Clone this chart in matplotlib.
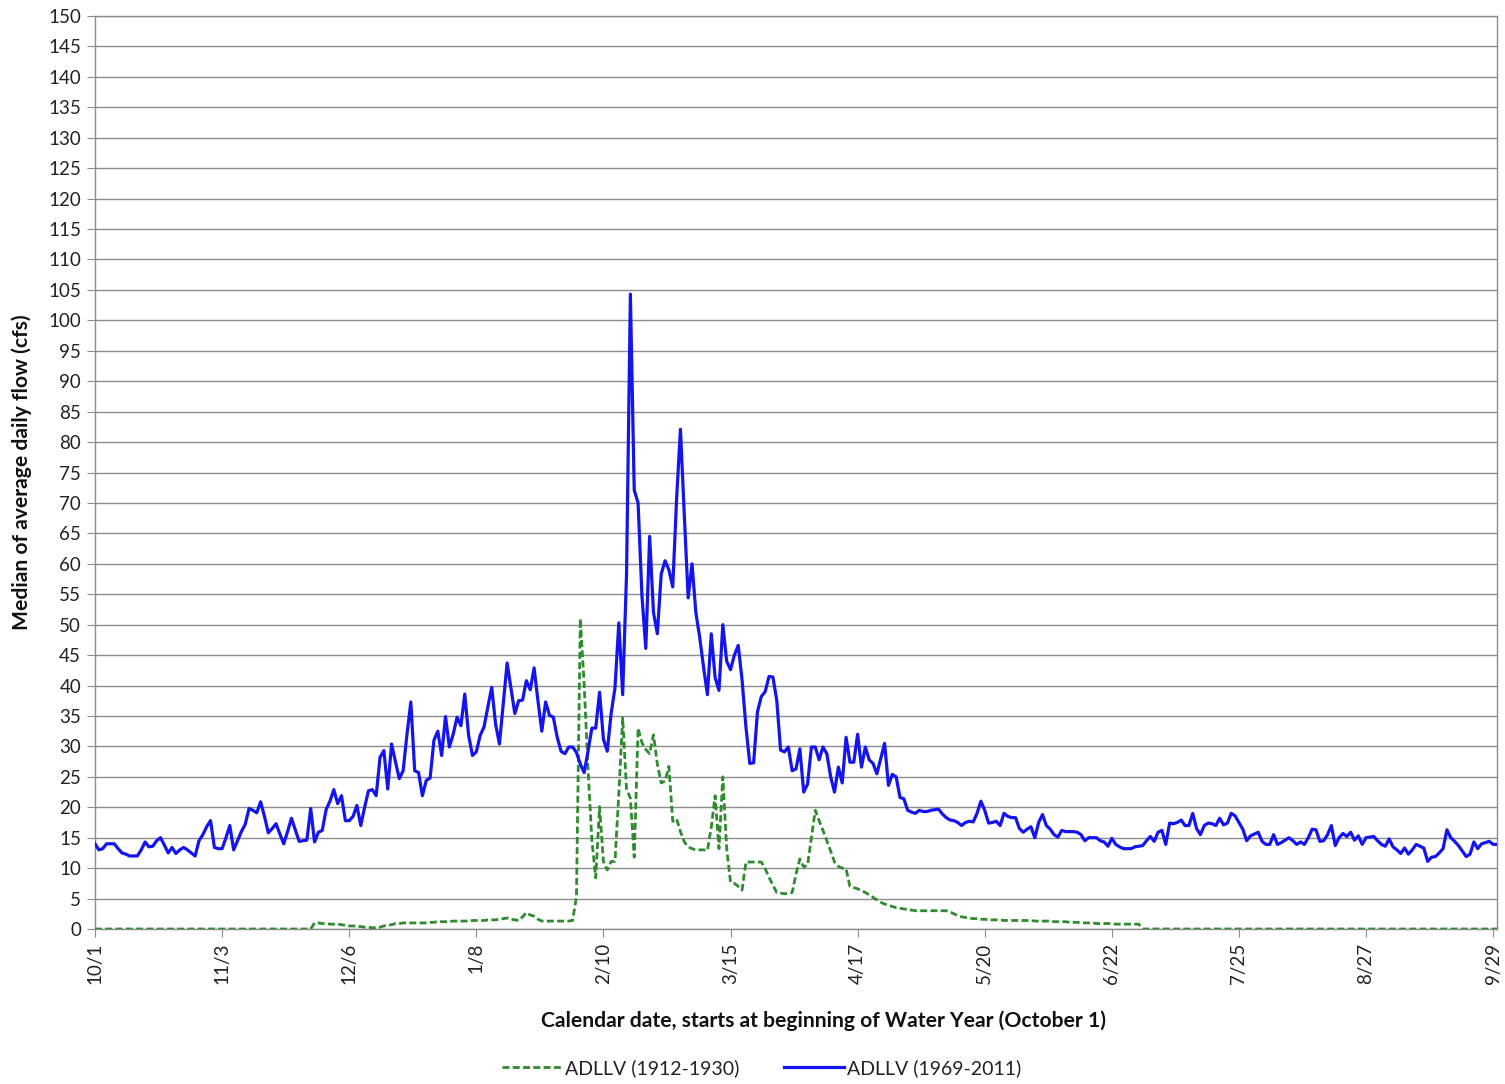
import numpy as np
import matplotlib
matplotlib.use("Agg")
import matplotlib.pyplot as plt

plt.rcParams['font.family'] = ['Lato', 'DejaVu Sans']

tick_labels = ["10/1", "11/3", "12/6", "1/8", "2/10", "3/15", "4/17",
               "5/20", "6/22", "7/25", "8/27", "9/29"]
tick_days = [0, 33, 66, 99, 132, 165, 198, 231, 264, 297, 330, 363]

# ADLLV (1969-2011), median of average daily flow, one value per day from 10/1
blue = [
    14.0, 13.0, 13.2, 14.0, 14.0, 14.0, 13.2, 12.5, 12.3, 12.0,
    12.0, 12.0, 13.0, 14.3, 13.5, 13.6, 14.5, 15.0, 13.8, 12.5,
    13.4, 12.4, 13.0, 13.4, 13.0, 12.5, 12.0, 14.5, 15.5, 16.8,
    17.8, 13.4, 13.2, 13.2, 15.0, 17.0, 13.0, 14.5, 16.0, 17.2,
    19.8, 19.5, 19.1, 20.9, 18.5, 15.8, 16.5, 17.3, 15.6, 14.0,
    16.0, 18.2, 16.3, 14.4, 14.5, 14.6, 19.8, 14.3, 15.9, 16.2,
    19.6, 21.0, 22.9, 20.6, 21.9, 17.8, 17.8, 18.5, 20.3, 17.0,
    20.0, 22.7, 22.9, 21.9, 28.2, 29.3, 23.0, 30.4, 27.5, 24.7,
    26.0, 32.0, 37.3, 26.0, 25.7, 21.9, 24.4, 24.8, 31.0, 32.5,
    28.5, 34.9, 29.9, 32.0, 34.8, 33.4, 38.6, 31.8, 28.5, 29.1,
    31.8, 33.2, 36.5, 39.7, 33.7, 30.4, 37.0, 43.7, 39.5, 35.4,
    37.5, 37.6, 40.8, 39.3, 42.9, 37.5, 32.5, 37.3, 35.1, 34.8,
    31.5, 29.2, 28.8, 29.9, 29.9, 29.0, 27.1, 25.7, 29.2, 33.0,
    33.0, 38.9, 31.2, 29.2, 35.4, 39.6, 50.3, 38.5, 58.3, 104.3,
    72.1, 70.0, 54.8, 46.1, 64.5, 52.0, 48.5, 58.3, 60.5, 59.0,
    56.2, 70.7, 82.1, 68.0, 54.4, 60.0, 52.0, 47.9, 43.0, 38.5,
    48.5, 41.3, 39.2, 50.0, 44.0, 42.6, 45.0, 46.6, 40.9, 33.2,
    27.2, 27.3, 35.7, 38.2, 39.0, 41.5, 41.4, 37.6, 29.4, 29.1,
    29.9, 26.0, 26.3, 29.6, 22.5, 23.8, 29.9, 29.9, 27.8, 29.9,
    28.8, 25.0, 22.5, 26.6, 24.0, 31.5, 27.4, 27.4, 32.0, 26.6,
    29.9, 27.8, 27.2, 25.5, 28.0, 30.5, 23.6, 25.4, 25.0, 21.6,
    21.4, 19.5, 19.2, 19.0, 19.5, 19.3, 19.3, 19.5, 19.6, 19.7,
    18.9, 18.3, 17.9, 17.8, 17.5, 17.0, 17.5, 17.7, 17.6, 19.0,
    21.0, 19.5, 17.4, 17.5, 17.7, 17.0, 19.0, 18.5, 18.3, 18.3,
    16.5, 15.9, 16.4, 16.8, 15.0, 17.5, 18.8, 17.0, 16.4, 15.5,
    15.1, 16.2, 16.0, 16.0, 16.0, 15.9, 15.5, 14.5, 15.0, 15.0,
    15.0, 14.5, 14.3, 13.6, 14.9, 13.9, 13.5, 13.2, 13.2, 13.2,
    13.5, 13.6, 13.7, 14.5, 15.2, 14.4, 15.9, 16.2, 13.9, 17.4,
    17.3, 17.5, 17.9, 17.0, 17.0, 19.0, 16.5, 15.5, 17.0, 17.4,
    17.3, 17.0, 18.2, 17.1, 17.4, 19.0, 18.6, 17.5, 16.4, 14.5,
    15.3, 15.6, 15.9, 14.4, 13.9, 13.9, 15.5, 13.9, 14.2, 14.6,
    15.0, 14.5, 13.9, 14.3, 13.9, 15.0, 16.4, 16.3, 14.4, 14.5,
    15.5, 17.0, 13.7, 15.0, 15.7, 15.2, 15.9, 14.6, 15.3, 13.9,
    15.0, 15.1, 15.2, 14.5, 13.9, 13.6, 14.8, 13.5, 13.0, 12.4,
    13.3, 12.3, 13.0, 13.9, 13.6, 13.3, 11.1, 11.8, 11.9, 12.5,
    13.2, 16.3, 15.0, 14.4, 13.7, 12.8, 11.9, 12.3, 14.3, 13.2,
    14.0, 14.2, 14.4, 13.9, 13.9,
]

# ADLLV (1912-1930), one value per day from 10/1
green = (
    [0.0] * 57 +
    [1.0, 1.0, 0.9, 0.9, 0.8, 0.8, 0.8, 0.7, 0.6,
     0.5, 0.5, 0.45, 0.4, 0.3, 0.3, 0.2, 0.2, 0.3, 0.5,
     0.6, 0.7, 0.9, 0.9, 1.0, 1.0, 1.0, 1.0, 1.0, 1.0,
     1.0, 1.1, 1.1, 1.2, 1.2, 1.2, 1.2, 1.3, 1.3, 1.3,
     1.3, 1.3, 1.4, 1.4, 1.4, 1.4, 1.5, 1.5, 1.5, 1.6,
     1.7, 1.8, 1.6, 1.5, 1.4, 2.0, 2.7, 2.3, 2.1, 1.6,
     1.3, 1.3, 1.3, 1.3, 1.3, 1.3, 1.3, 1.3, 1.4, 5.3,
     51.0, 40.2, 26.4, 14.6, 8.4, 20.1, 11.1, 9.7, 11.1, 11.1,
     22.2, 34.7, 23.0, 21.5, 11.8, 33.0, 30.6, 29.5, 28.8, 31.9,
     27.1, 24.0, 24.3, 26.7, 17.7, 18.1, 16.0, 14.3, 13.5, 13.2,
     13.0, 13.0, 13.0, 12.9, 16.7, 21.9, 13.2, 25.0, 13.2, 7.7,
     7.5, 7.0, 6.4, 11.0, 11.0, 11.0, 11.0, 11.0, 9.9, 8.5,
     7.2, 6.0, 5.9, 5.8, 5.8, 6.0, 9.0, 11.5, 10.2, 10.5,
     15.0, 19.5, 17.8, 16.2, 14.5, 12.8, 11.0, 10.3, 10.0, 9.9,
     7.0, 6.8, 6.6, 6.3, 6.0, 5.6, 5.2, 4.8, 4.4, 4.1,
     3.9, 3.7, 3.5, 3.4, 3.3, 3.2, 3.1, 3.0, 3.0,
     3.0, 3.0, 3.0, 3.0, 3.0, 3.0, 3.0,
     2.8, 2.5, 2.2, 2.0, 1.9, 1.8, 1.7, 1.7, 1.6, 1.6, 1.5, 1.5,
     1.5, 1.5, 1.4, 1.4, 1.4, 1.4, 1.4, 1.4, 1.4, 1.4,
     1.3, 1.3, 1.3, 1.3, 1.3, 1.2, 1.2, 1.2, 1.2, 1.1, 1.1, 1.1,
     1.0, 1.0, 1.0, 1.0,
     0.9, 0.9, 0.9, 0.9, 0.9, 0.8, 0.8, 0.8, 0.8, 0.8, 0.8, 0.8] +
    [0.0] * 93
)

series_labels = ["ADLLV (1912-1930)", "ADLLV (1969-2011)"]

fig = plt.figure(figsize=(15.05, 10.84), dpi=100)
ax = fig.add_axes([95 / 1505, 1 - 929 / 1084, (1497 - 95) / 1505, (929 - 16) / 1084])

x_blue = np.arange(len(blue))
x_green = np.arange(len(green))

lg, = ax.plot(x_green, green, color="#2e8b2e", lw=2.0, ls=(0, (2.5, 1.2)),
              label=series_labels[0], zorder=3)
lb, = ax.plot(x_blue, blue, color="#1414f0", lw=2.3, label=series_labels[1], zorder=4)

ax.set_xlim(0, 364)
ax.set_ylim(0, 150)
ax.set_yticks(np.arange(0, 151, 5))
ax.set_xticks(tick_days)
ax.set_xticklabels(tick_labels, rotation=90)
ax.grid(axis="y", color="#8c8c8c", lw=1.0)
ax.grid(axis="x", visible=False)
ax.set_axisbelow(True)
for s in ax.spines.values():
    s.set_color("#8c8c8c")
    s.set_linewidth(1.0)
ax.tick_params(axis="y", direction="out", length=6, color="#8c8c8c",
               labelsize=13.5, labelcolor="#222222", pad=4)
ax.tick_params(axis="x", direction="out", length=6, color="#8c8c8c",
               labelsize=13.5, labelcolor="#222222", pad=4)

fig.text(824 / 1505, 1 - 1021 / 1084, "Calendar date, starts at beginning of Water Year (October 1)",
         ha="center", va="center", fontsize=15.2, fontweight="bold", color="#111111")
fig.text(0.0146, 1 - 472 / 1084, "Median of average daily flow (cfs)", rotation=90,
         ha="center", va="center", fontsize=15.2, fontweight="bold", color="#111111")

fig.legend(handles=[lg, lb], labels=series_labels, loc="center",
           bbox_to_anchor=(0.506, 1 - 1068 / 1084), ncol=2, frameon=False,
           fontsize=14, handlelength=3.1, handletextpad=0.15, columnspacing=2.3,
           labelcolor="#222222")

fig.savefig("out.png", dpi=100, facecolor="white")
